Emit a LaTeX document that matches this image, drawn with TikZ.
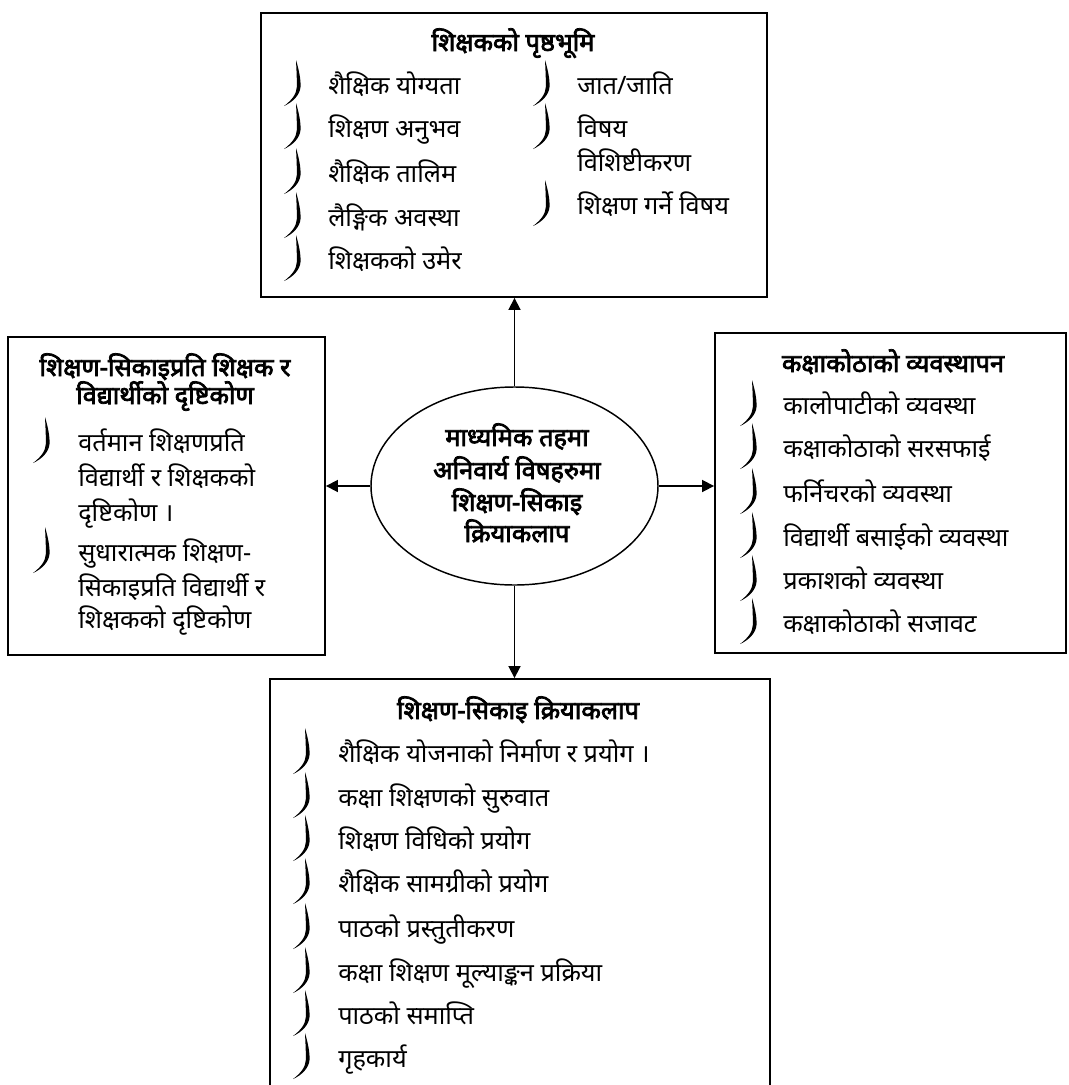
\documentclass[tikz,border=0pt]{standalone}
\usepackage{fontspec}
\setmainfont{Noto Sans}[Script=Devanagari]
\newfontfamily\devbold{Noto Sans}[Script=Devanagari, FakeBold=3]
\usetikzlibrary{shapes.geometric,arrows.meta,fit}
\tikzset{
  frame/.style={draw, line width=1.4pt, inner sep=0pt},
  itm/.style={anchor=base west, inner sep=0pt, font=\fontsize{19}{22}\selectfont},
  ttl/.style={anchor=base, inner sep=0pt, font=\fontsize{19}{22}\selectfont\devbold},
  arr/.style={line width=1.3pt, -{Triangle[length=9pt,width=9pt]}},
  bul/.pic={\fill (0,-23) .. controls (3,-13) and (5,-3) .. (4.5,4)
     .. controls (3.8,12) and (-3,19) .. (-12,23)
     .. controls (-4,17) and (0.5,11) .. (0.8,4)
     .. controls (1,-4) and (0.4,-14) .. cycle;}
}
\newcommand\entry[5]{\pic at (#1,#3-2) {bul}; \node[itm] (#5) at (#2,#3+9) {#4};}
\newcommand\plain[4]{\node[itm] (#4) at (#1,#2+9) {#3};}
\newcommand\heading[4]{\node[ttl] (#4) at (#1,#2+9) {#3};}
\begin{document}
\begin{tikzpicture}[x=0.75pt,y=-0.75pt]
\useasboundingbox (0,0) rectangle (1068,1085);
\clip (0,0) rectangle (1068,1085);
% boxes
\node[frame, fit={(261,13) (767,297)}] (topbox) {};
\node[frame, fit={(8,337) (325,655)}] (leftbox) {};
\node[frame, fit={(715,333) (1066,653)}] (rightbox) {};
\node[frame, fit={(270,679) (770,1100)}] (botbox) {};
\node[draw, ellipse, line width=1.1pt, minimum width=215.25pt, minimum height=148.5pt, inner sep=0pt] (ell) at (514.5,486) {};
% centre text
\heading{517}{437}{माध्यमिक तहमा}{c1}
\heading{517}{470}{अनिवार्य विषहरुमा}{c2}
\heading{517}{502}{शिक्षण-सिकाइ}{c3}
\heading{517}{533}{क्रियाकलाप}{c4}
% arrows
\draw[arr] (ell.north) -- (ell.north |- topbox.south);
\draw[arr] (ell.south) -- (ell.south |- botbox.north);
\draw[arr] (ell.west) -- (ell.west -| leftbox.east);
\draw[arr] (ell.east) -- (ell.east -| rightbox.west);
% top box
\heading{513}{42}{शिक्षकको पृष्ठभूमि}{t0}
\entry{296}{328}{85}{शैक्षिक योग्यता}{t1}
\entry{296}{328}{128}{शिक्षण अनुभव}{t2}
\entry{296}{328}{173}{शैक्षिक तालिम}{t3}
\entry{296}{328}{217}{लैङ्गिक अवस्था}{t4}
\entry{296}{328}{260}{शिक्षकको उमेर}{t5}
\entry{545}{577}{85}{जात/जाति}{t6}
\entry{545}{577}{128}{विषय}{t7}
\plain{577}{162}{विशिष्टीकरण}{t7b}
\entry{545}{577}{205}{शिक्षण गर्ने विषय}{t8}
% left box
\heading{165}{367}{शिक्षण-सिकाइप्रति शिक्षक र}{l0}
\heading{165}{395}{विद्यार्थीको दृष्टिकोण}{l0b}
\entry{45}{78}{442}{वर्तमान शिक्षणप्रति}{l1}
\plain{78}{477}{विद्यार्थी र शिक्षकको}{l1b}
\plain{78}{512}{दृष्टिकोण ।}{l1c}
\entry{45}{78}{552}{सुधारात्मक शिक्षण-}{l2}
\plain{78}{587}{सिकाइप्रति विद्यार्थी र}{l2b}
\plain{78}{619}{शिक्षकको दृष्टिकोण}{l2c}
% right box
\heading{893}{363}{कक्षाकोठाको व्यवस्थापन}{r0}
\entry{752}{783}{405}{कालोपाटीको व्यवस्था}{r1}
\entry{752}{783}{448}{कक्षाकोठाको सरसफाई}{r2}
\entry{752}{783}{493}{फर्निचरको व्यवस्था}{r3}
\entry{752}{783}{537}{विद्यार्थी बसाईको व्यवस्था}{r4}
\entry{752}{783}{580}{प्रकाशको व्यवस्था}{r5}
\entry{752}{783}{623}{कक्षाकोठाको सजावट}{r6}
% bottom box
\heading{518}{710}{शिक्षण-सिकाइ क्रियाकलाप}{b0}
\entry{305}{338}{753}{शैक्षिक योजनाको निर्माण र प्रयोग ।}{b1}
\entry{305}{338}{797}{कक्षा शिक्षणको सुरुवात}{b2}
\entry{305}{338}{840}{शिक्षण विधिको प्रयोग}{b3}
\entry{305}{338}{883}{शैक्षिक सामग्रीको प्रयोग}{b4}
\entry{305}{338}{928}{पाठको प्रस्तुतीकरण}{b5}
\entry{305}{338}{972}{कक्षा शिक्षण मूल्याङ्कन प्रक्रिया}{b6}
\entry{305}{338}{1015}{पाठको समाप्ति}{b7}
\entry{305}{338}{1058}{गृहकार्य}{b8}
\end{tikzpicture}
\end{document}
